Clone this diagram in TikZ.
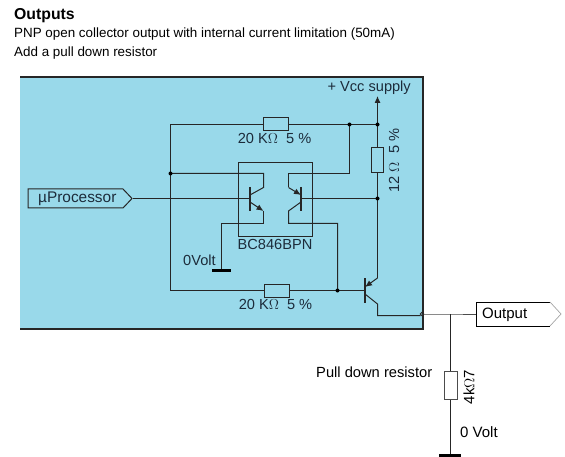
\documentclass[tikz,border=0pt]{standalone}
\usepackage{fontspec}
\setmainfont{Liberation Sans}
\usepackage{tikz}
\usetikzlibrary{arrows.meta}
\definecolor{panelblue}{HTML}{99D9EA}
\definecolor{inktext}{HTML}{1C2B3A}
\tikzset{
wire/.style={line width=1pt,draw=black!85},
tipwire/.style={wire,-{Latex[length=7pt,width=6pt]}},
resbox/.style={draw=black!85,line width=1pt,fill=panelblue,minimum width=25pt,minimum height=13pt,inner sep=0pt},
dotjoin/.style={circle,fill=black,inner sep=0pt,minimum size=4pt},
bluetext/.style={text=inktext,font=\fontsize{14.6}{15}\selectfont,inner sep=0pt},
plaintext/.style={text=black,font=\fontsize{13.4}{14}\selectfont,inner sep=0pt,anchor=west},
}
\begin{document}
\begin{tikzpicture}[x=1pt,y=-1pt]
\useasboundingbox (0,0) rectangle (565,457);
\fill[panelblue] (20,77) rectangle (422.5,329);
\draw[line width=2pt,black!85] (20,77)--(422.5,77)--(422.5,329)--(20,329);
\node[font=\bfseries\fontsize{15.8}{16}\selectfont,inner sep=0pt,anchor=west] (title) at (14,16) {Outputs};
\node[plaintext] (subone) at (14,34.5) {PNP open collector output with internal current limitation (50mA)};
\node[plaintext] (subtwo) at (14,53.5) {Add a pull down resistor};
\node[bluetext,anchor=east] (vcc) at (411,88) {+ Vcc supply};
\coordinate (topl) at (170.5,124.5);
\coordinate (topm) at (349.5,124.5);
\coordinate (topr) at (377.5,124.5);
\coordinate (vcctip) at (377.5,96);
\coordinate (midl) at (170.5,173.5);
\coordinate (midm) at (349.5,173.5);
\coordinate (baser) at (377.5,198.5);
\coordinate (botl) at (170.5,290.5);
\coordinate (botm) at (337.5,290.5);
\coordinate (outw) at (420.5,315.5);
\coordinate (outj) at (422,314);
\coordinate (pullj) at (450.5,314);
\node[resbox] (rtop) at (275.5,124.5) {};
\node[resbox] (rbot) at (276.5,290.5) {};
\node[resbox,minimum width=12pt,minimum height=25pt] (rvcc) at (377.5,160.5) {};
\node[resbox,minimum width=13pt,minimum height=28pt,fill=white,draw=black!70] (rpull) at (450.5,385) {};
\node[bluetext] (ltop) at (274.5,138) {20 K$\Omega$\ \ 5 \%};
\node[bluetext] (lbot) at (275.5,304.5) {20 K$\Omega$\ \ 5 \%};
\node[bluetext,rotate=90] (lvcc) at (394,160.5) {12 $\Omega$\ \ 5 \%};
\node[bluetext] (lic) at (275,244.5) {BC846BPN};
\node[bluetext,anchor=west] (lzero) at (183,260) {0Volt};
\draw[wire] (238.5,162.5) rectangle (312.5,236.5);
\draw[wire] (topl)--(rtop.west);
\draw[wire] (rtop.east)--(topm)--(topr);
\draw[wire] (topl)--(midl)--(botl)--(rbot.west);
\draw[tipwire] (topr)--(vcctip);
\draw[wire] (topr)--(rvcc.north);
\draw[wire] (rvcc.south)--(baser);
\draw[wire] (midl)--(263.5,173.5)--(263.5,187.5)--(250,195);
\draw[wire] (topm)--(midm)--(288.5,173.5)--(288.5,187.5);
\draw[tipwire] (288.5,187.5)--(301,195);
\draw[wire] (baser)--(301,198.5);
\draw[wire] (133,198.5)--(250,198.5);
\draw[tipwire] (250,202)--(263.5,211);
\draw[wire] (263.5,211)--(263.5,223.5)--(221.5,223.5)--(221.5,270);
\draw[wire] (301,202)--(288.5,211)--(288.5,223.5)--(337.5,223.5)--(botm);
\draw[wire] (rbot.east)--(botm)--(365,290.5);
\draw[wire] (baser)--(377.5,278);
\draw[tipwire] (377.5,278)--(365,287);
\draw[wire] (365,294)--(377.5,304)--(377.5,315.5)--(outw);
\draw[line width=2pt,black!85] (250,187)--(250,211);
\draw[line width=2pt,black!85] (301,187)--(301,211);
\draw[line width=2pt,black!85] (365,278)--(365,303);
\draw[line width=3pt,black] (212,270.5)--(231,270.5);
\node[dotjoin] (dota) at (topm) {};
\node[dotjoin] (dotb) at (topr) {};
\node[dotjoin] (dotc) at (midl) {};
\node[dotjoin] (dotd) at (baser) {};
\node[dotjoin] (dote) at (botm) {};
\draw[draw=black!85,line width=1pt] (28,189)--(123,189)--(132,198.5)--(123,208)--(28,208)--cycle;
\node[bluetext,anchor=west,font=\fontsize{15.4}{16}\selectfont] (lproc) at (38,198.5) {µProcessor};
\draw[wire,black!70] (outj)--(pullj)--(476,314);
\draw[line width=.8pt,black!85] (outj) circle (1.8pt);
\draw[wire] (pullj)--(rpull.north);
\draw[wire] (rpull.south)--(450.5,455);
\draw[line width=3pt,black] (439,455)--(461,455);
\draw[line width=1pt,black] (550,302)--(476,302)--(476,326)--(550,326);
\draw[line width=.7pt,black!35] (550,302)--(561,314)--(550,326);
\node[plaintext,font=\fontsize{15}{15}\selectfont] (loutput) at (482,314.5) {Output};
\node[plaintext,font=\fontsize{14.7}{15}\selectfont] (lpull) at (316,372) {Pull down resistor};
\node[plaintext,rotate=90,anchor=center,font=\fontsize{15}{15}\selectfont] (lfour) at (469,387) {4k$\Omega$7};
\node[plaintext,font=\fontsize{15}{15}\selectfont] (lvolt) at (460,432) {0 Volt};
\end{tikzpicture}
\end{document}
